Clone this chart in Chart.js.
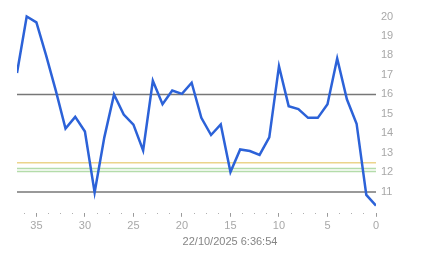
<!DOCTYPE html>
<html>
<head>
<meta charset="utf-8">
<script src="https://cdn.jsdelivr.net/npm/chart.js@4/dist/chart.umd.min.js"></script>
<style>
    html, body { margin: 0; padding: 0; background: #fff; }
    #wrap { width: 443px; height: 258px; }
</style>
</head>
<body>
<div id="wrap"><canvas id="chart"></canvas></div>
<script>
// x = age in units, 37 (oldest, left) down to 0 (right)
const ages = [37, 36, 35, 34, 33, 32, 31, 30, 29, 28, 27, 26, 25, 24, 23, 22, 21, 20, 19,
              18, 17, 16, 15, 14, 13, 12, 11, 10, 9, 8, 7, 6, 5, 4, 3, 2, 1, 0];
const values = [17.1, 20.0, 19.7, 18.0, 16.2, 14.25, 14.85, 14.1, 10.97, 13.8, 16.0, 14.97, 14.45,
                13.13, 16.7, 15.5, 16.2, 16.03, 16.6, 14.8, 13.92, 14.46, 12.02, 13.18, 13.1, 12.9,
                13.8, 17.45, 15.4, 15.25, 14.8, 14.8, 15.5, 17.85, 15.75, 14.5, 10.85, 10.3];

// reference levels drawn across the whole plot
const limitLevels = [16, 11];
const warnLevels = [12.5];
const okLevels = [12.2, 12.05];

const yTicks = [11, 12, 13, 14, 15, 16, 17, 18, 19, 20];
const xLabelTicks = [0, 5, 10, 15, 20, 25, 30, 35];
const xMinorStep = 1.25;
const stamp = '22/10/2025 6:36:54';

const xMin = 0, xMax = 37;

function levelSet(v, color) {
    return {
        data: [{ x: xMin, y: v }, { x: xMax, y: v }],
        borderColor: color,
        borderWidth: 1.5,
        pointRadius: 0,
        order: 2
    };
}

const datasets = [
    {
        data: ages.map((a, i) => ({ x: a, y: values[i] })),
        borderColor: '#2c62d8',
        borderWidth: 2.5,
        pointRadius: 0,
        tension: 0,
        order: 1
    }
];
limitLevels.forEach(v => datasets.push(levelSet(v, '#777777')));
warnLevels.forEach(v => datasets.push(levelSet(v, '#ecd48c')));
okLevels.forEach(v => datasets.push(levelSet(v, '#b4dcaa')));

Chart.defaults.font.family = '"Liberation Sans", Arial, sans-serif';
Chart.defaults.font.size = 11;

new Chart(document.getElementById('chart'), {
    type: 'line',
    data: { datasets },
    options: {
        responsive: true,
        maintainAspectRatio: false,
        animation: false,
        layout: { padding: { left: 17, right: 0, top: 9, bottom: 9 } },
        plugins: {
            legend: { display: false },
            tooltip: { enabled: false },
            title: {
                display: true,
                text: stamp,
                position: 'bottom',
                color: '#858585',
                font: { size: 11, weight: 'normal' },
                padding: { top: 3, bottom: 0 }
            }
        },
        scales: {
            x: {
                type: 'linear',
                reverse: true,
                min: xMin,
                max: xMax,
                border: { display: false },
                grid: {
                    drawOnChartArea: false,
                    drawTicks: true,
                    tickLength: 4,
                    tickColor: ctx => (ctx.tick && ctx.tick.value % 5 === 0) ? '#9a9a9a' : '#b0b0b0',
                    tickBorderDash: ctx => (ctx.tick && ctx.tick.value % 5 === 0) ? [] : [1, 10]
                },
                afterBuildTicks: scale => {
                    const t = [];
                    for (let v = 0; v < xMax; v += xMinorStep) t.push({ value: v });
                    scale.ticks = t;
                },
                afterFit: scale => { scale.height = 20; },
                ticks: {
                    color: '#a8a8a8',
                    padding: 3,
                    maxRotation: 0,
                    autoSkip: false,
                    callback: v => xLabelTicks.includes(v) ? String(v) : ''
                }
            },
            y: {
                type: 'linear',
                position: 'right',
                min: 9.93,
                max: 20.25,
                border: { display: false },
                grid: { display: false, drawTicks: false },
                afterBuildTicks: scale => {
                    scale.ticks = yTicks.map(v => ({ value: v }));
                },
                afterFit: scale => { scale.width = 67; },
                ticks: {
                    color: '#a8a8a8',
                    padding: 5,
                    callback: v => String(v)
                }
            }
        }
    }
});
</script>
</body>
</html>
